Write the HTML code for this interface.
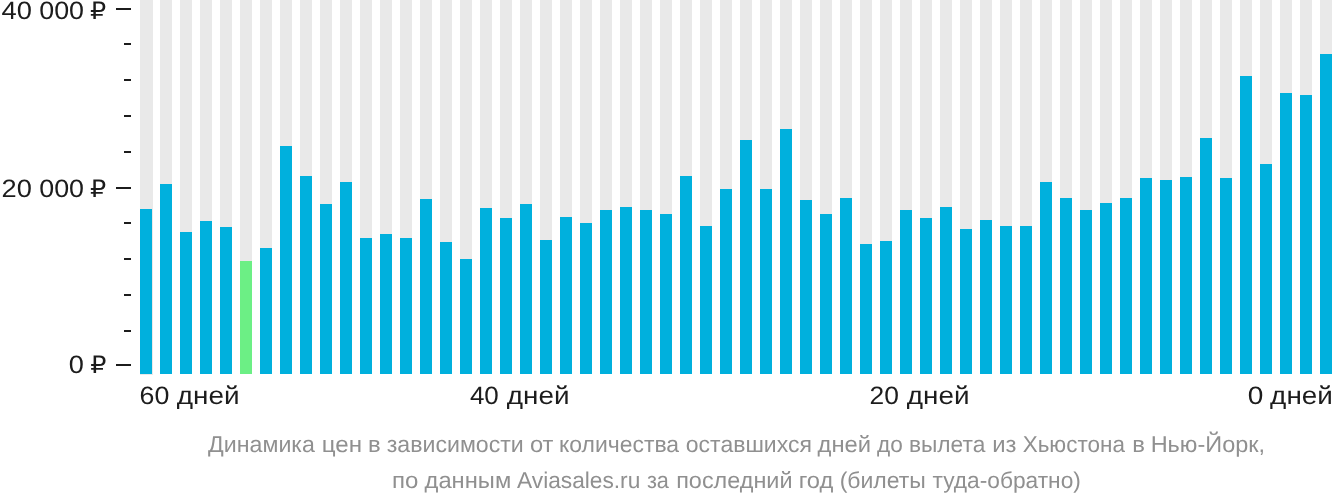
<!DOCTYPE html>
<html lang="ru"><head><meta charset="utf-8"><title>Динамика цен</title>
<style>
html,body{margin:0;padding:0;background:#fff;}
body{width:1332px;height:502px;overflow:hidden;font-family:"Liberation Sans","DejaVu Sans",sans-serif;}
svg{display:block;}
text{font-family:"Liberation Sans","DejaVu Sans",sans-serif;white-space:pre;text-rendering:geometricPrecision;}
.ax{font-size:25.2px;fill:#1c1c1c;}
.rub{font-size:24px;}
.cap{font-size:22.8px;fill:#909090;}
</style></head><body>
<svg width="1332" height="502" viewBox="0 0 1332 502">
<g shape-rendering="crispEdges">
<rect x="140" y="0" width="13" height="375" fill="#e9e9e9"/>
<rect x="160" y="0" width="12" height="374" fill="#e9e9e9"/>
<rect x="180" y="0" width="12" height="374" fill="#e9e9e9"/>
<rect x="200" y="0" width="12" height="374" fill="#e9e9e9"/>
<rect x="220" y="0" width="12" height="374" fill="#e9e9e9"/>
<rect x="240" y="0" width="12" height="374" fill="#e9e9e9"/>
<rect x="260" y="0" width="12" height="374" fill="#e9e9e9"/>
<rect x="280" y="0" width="12" height="374" fill="#e9e9e9"/>
<rect x="300" y="0" width="12" height="374" fill="#e9e9e9"/>
<rect x="320" y="0" width="12" height="374" fill="#e9e9e9"/>
<rect x="340" y="0" width="12" height="374" fill="#e9e9e9"/>
<rect x="360" y="0" width="12" height="374" fill="#e9e9e9"/>
<rect x="380" y="0" width="12" height="374" fill="#e9e9e9"/>
<rect x="400" y="0" width="12" height="374" fill="#e9e9e9"/>
<rect x="420" y="0" width="12" height="374" fill="#e9e9e9"/>
<rect x="440" y="0" width="12" height="374" fill="#e9e9e9"/>
<rect x="460" y="0" width="12" height="374" fill="#e9e9e9"/>
<rect x="480" y="0" width="12" height="374" fill="#e9e9e9"/>
<rect x="500" y="0" width="12" height="374" fill="#e9e9e9"/>
<rect x="520" y="0" width="12" height="374" fill="#e9e9e9"/>
<rect x="540" y="0" width="12" height="374" fill="#e9e9e9"/>
<rect x="560" y="0" width="12" height="374" fill="#e9e9e9"/>
<rect x="580" y="0" width="12" height="374" fill="#e9e9e9"/>
<rect x="600" y="0" width="12" height="374" fill="#e9e9e9"/>
<rect x="620" y="0" width="12" height="374" fill="#e9e9e9"/>
<rect x="640" y="0" width="12" height="374" fill="#e9e9e9"/>
<rect x="660" y="0" width="12" height="374" fill="#e9e9e9"/>
<rect x="680" y="0" width="12" height="374" fill="#e9e9e9"/>
<rect x="700" y="0" width="12" height="374" fill="#e9e9e9"/>
<rect x="720" y="0" width="12" height="374" fill="#e9e9e9"/>
<rect x="740" y="0" width="12" height="374" fill="#e9e9e9"/>
<rect x="760" y="0" width="12" height="374" fill="#e9e9e9"/>
<rect x="780" y="0" width="12" height="374" fill="#e9e9e9"/>
<rect x="800" y="0" width="12" height="374" fill="#e9e9e9"/>
<rect x="820" y="0" width="12" height="374" fill="#e9e9e9"/>
<rect x="840" y="0" width="12" height="374" fill="#e9e9e9"/>
<rect x="860" y="0" width="12" height="374" fill="#e9e9e9"/>
<rect x="880" y="0" width="12" height="374" fill="#e9e9e9"/>
<rect x="900" y="0" width="12" height="374" fill="#e9e9e9"/>
<rect x="920" y="0" width="12" height="374" fill="#e9e9e9"/>
<rect x="940" y="0" width="12" height="374" fill="#e9e9e9"/>
<rect x="960" y="0" width="12" height="374" fill="#e9e9e9"/>
<rect x="980" y="0" width="12" height="374" fill="#e9e9e9"/>
<rect x="1000" y="0" width="12" height="374" fill="#e9e9e9"/>
<rect x="1020" y="0" width="12" height="374" fill="#e9e9e9"/>
<rect x="1040" y="0" width="12" height="374" fill="#e9e9e9"/>
<rect x="1060" y="0" width="12" height="374" fill="#e9e9e9"/>
<rect x="1080" y="0" width="12" height="374" fill="#e9e9e9"/>
<rect x="1100" y="0" width="12" height="374" fill="#e9e9e9"/>
<rect x="1120" y="0" width="12" height="374" fill="#e9e9e9"/>
<rect x="1140" y="0" width="12" height="374" fill="#e9e9e9"/>
<rect x="1160" y="0" width="12" height="374" fill="#e9e9e9"/>
<rect x="1180" y="0" width="12" height="374" fill="#e9e9e9"/>
<rect x="1200" y="0" width="12" height="374" fill="#e9e9e9"/>
<rect x="1220" y="0" width="12" height="374" fill="#e9e9e9"/>
<rect x="1240" y="0" width="12" height="374" fill="#e9e9e9"/>
<rect x="1260" y="0" width="12" height="374" fill="#e9e9e9"/>
<rect x="1280" y="0" width="12" height="374" fill="#e9e9e9"/>
<rect x="1300" y="0" width="12" height="374" fill="#e9e9e9"/>
<rect x="1320" y="0" width="12" height="374" fill="#e9e9e9"/>
<rect x="140" y="209" width="12" height="165" fill="#00b0dd"/>
<rect x="160" y="184" width="12" height="190" fill="#00b0dd"/>
<rect x="180" y="232" width="12" height="142" fill="#00b0dd"/>
<rect x="200" y="221" width="12" height="153" fill="#00b0dd"/>
<rect x="220" y="227" width="12" height="147" fill="#00b0dd"/>
<rect x="240" y="261" width="12" height="113" fill="#6cef85"/>
<rect x="260" y="248" width="12" height="126" fill="#00b0dd"/>
<rect x="280" y="146" width="12" height="228" fill="#00b0dd"/>
<rect x="300" y="176" width="12" height="198" fill="#00b0dd"/>
<rect x="320" y="204" width="12" height="170" fill="#00b0dd"/>
<rect x="340" y="182" width="12" height="192" fill="#00b0dd"/>
<rect x="360" y="238" width="12" height="136" fill="#00b0dd"/>
<rect x="380" y="234" width="12" height="140" fill="#00b0dd"/>
<rect x="400" y="238" width="12" height="136" fill="#00b0dd"/>
<rect x="420" y="199" width="12" height="175" fill="#00b0dd"/>
<rect x="440" y="242" width="12" height="132" fill="#00b0dd"/>
<rect x="460" y="259" width="12" height="115" fill="#00b0dd"/>
<rect x="480" y="208" width="12" height="166" fill="#00b0dd"/>
<rect x="500" y="218" width="12" height="156" fill="#00b0dd"/>
<rect x="520" y="204" width="12" height="170" fill="#00b0dd"/>
<rect x="540" y="240" width="12" height="134" fill="#00b0dd"/>
<rect x="560" y="217" width="12" height="157" fill="#00b0dd"/>
<rect x="580" y="223" width="12" height="151" fill="#00b0dd"/>
<rect x="600" y="210" width="12" height="164" fill="#00b0dd"/>
<rect x="620" y="207" width="12" height="167" fill="#00b0dd"/>
<rect x="640" y="210" width="12" height="164" fill="#00b0dd"/>
<rect x="660" y="214" width="12" height="160" fill="#00b0dd"/>
<rect x="680" y="176" width="12" height="198" fill="#00b0dd"/>
<rect x="700" y="226" width="12" height="148" fill="#00b0dd"/>
<rect x="720" y="189" width="12" height="185" fill="#00b0dd"/>
<rect x="740" y="140" width="12" height="234" fill="#00b0dd"/>
<rect x="760" y="189" width="12" height="185" fill="#00b0dd"/>
<rect x="780" y="129" width="12" height="245" fill="#00b0dd"/>
<rect x="800" y="200" width="12" height="174" fill="#00b0dd"/>
<rect x="820" y="214" width="12" height="160" fill="#00b0dd"/>
<rect x="840" y="198" width="12" height="176" fill="#00b0dd"/>
<rect x="860" y="244" width="12" height="130" fill="#00b0dd"/>
<rect x="880" y="241" width="12" height="133" fill="#00b0dd"/>
<rect x="900" y="210" width="12" height="164" fill="#00b0dd"/>
<rect x="920" y="218" width="12" height="156" fill="#00b0dd"/>
<rect x="940" y="207" width="12" height="167" fill="#00b0dd"/>
<rect x="960" y="229" width="12" height="145" fill="#00b0dd"/>
<rect x="980" y="220" width="12" height="154" fill="#00b0dd"/>
<rect x="1000" y="226" width="12" height="148" fill="#00b0dd"/>
<rect x="1020" y="226" width="12" height="148" fill="#00b0dd"/>
<rect x="1040" y="182" width="12" height="192" fill="#00b0dd"/>
<rect x="1060" y="198" width="12" height="176" fill="#00b0dd"/>
<rect x="1080" y="210" width="12" height="164" fill="#00b0dd"/>
<rect x="1100" y="203" width="12" height="171" fill="#00b0dd"/>
<rect x="1120" y="198" width="12" height="176" fill="#00b0dd"/>
<rect x="1140" y="178" width="12" height="196" fill="#00b0dd"/>
<rect x="1160" y="180" width="12" height="194" fill="#00b0dd"/>
<rect x="1180" y="177" width="12" height="197" fill="#00b0dd"/>
<rect x="1200" y="138" width="12" height="236" fill="#00b0dd"/>
<rect x="1220" y="178" width="12" height="196" fill="#00b0dd"/>
<rect x="1240" y="76" width="12" height="298" fill="#00b0dd"/>
<rect x="1260" y="164" width="12" height="210" fill="#00b0dd"/>
<rect x="1280" y="93" width="12" height="281" fill="#00b0dd"/>
<rect x="1300" y="95" width="12" height="279" fill="#00b0dd"/>
<rect x="1320" y="54" width="12" height="320" fill="#00b0dd"/>
<rect x="116" y="8" width="15" height="2" fill="#1c1c1c"/>
<rect x="124" y="43" width="7" height="2" fill="#1c1c1c"/>
<rect x="124" y="79" width="7" height="2" fill="#1c1c1c"/>
<rect x="124" y="115" width="7" height="2" fill="#1c1c1c"/>
<rect x="124" y="151" width="7" height="2" fill="#1c1c1c"/>
<rect x="116" y="187" width="15" height="2" fill="#1c1c1c"/>
<rect x="124" y="222" width="7" height="2" fill="#1c1c1c"/>
<rect x="124" y="258" width="7" height="2" fill="#1c1c1c"/>
<rect x="124" y="294" width="7" height="2" fill="#1c1c1c"/>
<rect x="124" y="330" width="7" height="2" fill="#1c1c1c"/>
<rect x="116" y="364" width="15" height="2" fill="#1c1c1c"/>
</g>
<text class="cap" y="451.7"><tspan x="208.13" textLength="106.77" lengthAdjust="spacingAndGlyphs">Динамика</tspan> <tspan x="321.72" textLength="40.35" lengthAdjust="spacingAndGlyphs">цен</tspan> <tspan x="368.14" textLength="12.70" lengthAdjust="spacingAndGlyphs">в</tspan> <tspan x="386.75" textLength="137.06" lengthAdjust="spacingAndGlyphs">зависимости</tspan> <tspan x="529.91" textLength="23.50" lengthAdjust="spacingAndGlyphs">от</tspan> <tspan x="558.95" textLength="120.15" lengthAdjust="spacingAndGlyphs">количества</tspan> <tspan x="685.83" textLength="126.06" lengthAdjust="spacingAndGlyphs">оставшихся</tspan> <tspan x="817.57" textLength="53.58" lengthAdjust="spacingAndGlyphs">дней</tspan> <tspan x="876.98" textLength="25.77" lengthAdjust="spacingAndGlyphs">до</tspan> <tspan x="908.92" textLength="76.38" lengthAdjust="spacingAndGlyphs">вылета</tspan> <tspan x="992.25" textLength="24.25" lengthAdjust="spacingAndGlyphs">из</tspan> <tspan x="1022.70" textLength="102.20" lengthAdjust="spacingAndGlyphs">Хьюстона</tspan> <tspan x="1132.24" textLength="12.70" lengthAdjust="spacingAndGlyphs">в</tspan> <tspan x="1150.67" textLength="114.44" lengthAdjust="spacingAndGlyphs">Нью-Йорк,</tspan></text>
<text class="cap" y="488.1"><tspan x="391.93" textLength="26.38" lengthAdjust="spacingAndGlyphs">по</tspan> <tspan x="424.57" textLength="86.67" lengthAdjust="spacingAndGlyphs">данным</tspan> <tspan x="517.06" textLength="123.25" lengthAdjust="spacingAndGlyphs">Aviasales.ru</tspan> <tspan x="646.88" textLength="22.02" lengthAdjust="spacingAndGlyphs">за</tspan> <tspan x="676.18" textLength="116.35" lengthAdjust="spacingAndGlyphs">последний</tspan> <tspan x="798.65" textLength="34.65" lengthAdjust="spacingAndGlyphs">год</tspan> <tspan x="839.67" textLength="86.22" lengthAdjust="spacingAndGlyphs">(билеты</tspan> <tspan x="932.51" textLength="148.40" lengthAdjust="spacingAndGlyphs">туда-обратно)</tspan></text>
<text class="ax" y="18.85"><tspan x="1.47" textLength="30.39" lengthAdjust="spacingAndGlyphs">40</tspan> <tspan x="39.25" textLength="44.80" lengthAdjust="spacingAndGlyphs">000</tspan> <tspan class="rub" x="90.07" textLength="16.20" lengthAdjust="spacingAndGlyphs">₽</tspan></text>
<text class="ax" y="196.85"><tspan x="1.53" textLength="30.34" lengthAdjust="spacingAndGlyphs">20</tspan> <tspan x="39.25" textLength="44.80" lengthAdjust="spacingAndGlyphs">000</tspan> <tspan class="rub" x="90.07" textLength="16.20" lengthAdjust="spacingAndGlyphs">₽</tspan></text>
<text class="ax" y="372.75"><tspan x="68.84" textLength="15.12" lengthAdjust="spacingAndGlyphs">0</tspan> <tspan class="rub" x="90.17" textLength="16.20" lengthAdjust="spacingAndGlyphs">₽</tspan></text>
<text class="ax" y="404.1"><tspan x="139.64" textLength="29.81" lengthAdjust="spacingAndGlyphs">60</tspan> <tspan x="176.83" textLength="62.81" lengthAdjust="spacingAndGlyphs">дней</tspan></text>
<text class="ax" y="404.1"><tspan x="469.90" textLength="28.91" lengthAdjust="spacingAndGlyphs">40</tspan> <tspan x="506.83" textLength="62.70" lengthAdjust="spacingAndGlyphs">дней</tspan></text>
<text class="ax" y="404.1"><tspan x="869.47" textLength="29.36" lengthAdjust="spacingAndGlyphs">20</tspan> <tspan x="906.83" textLength="62.70" lengthAdjust="spacingAndGlyphs">дней</tspan></text>
<text class="ax" y="404.1"><tspan x="1247.71" textLength="15.59" lengthAdjust="spacingAndGlyphs">0</tspan> <tspan x="1270.13" textLength="62.70" lengthAdjust="spacingAndGlyphs">дней</tspan></text>
</svg>
</body></html>
